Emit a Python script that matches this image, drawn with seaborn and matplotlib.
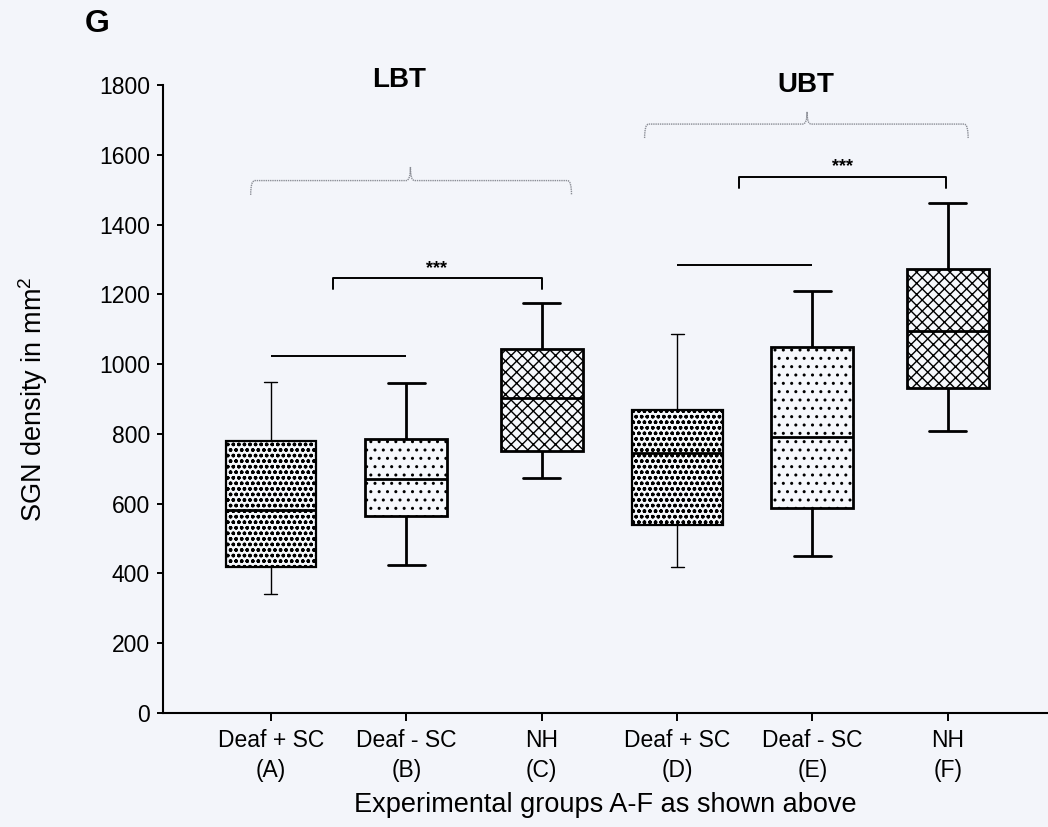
import numpy as np
import pandas as pd
import matplotlib
matplotlib.use("Agg")
import matplotlib.pyplot as plt
import seaborn as sns
from matplotlib.path import Path
from matplotlib.patches import PathPatch

# ---------------- data ----------------
groups = ["A", "B", "C", "D", "E", "F"]
group_labels = ["Deaf + SC\n(A)", "Deaf - SC\n(B)", "NH\n(C)",
                "Deaf + SC\n(D)", "Deaf - SC\n(E)", "NH\n(F)"]
whisker_low = [341, 425, 674, 418, 449, 808]
q1 = [418, 564, 750, 538, 586, 930]
median = [581, 671, 903, 746, 792, 1095]
q3 = [779, 784, 1044, 868, 1048, 1272]
whisker_high = [948, 945, 1176, 1086, 1209, 1461]
y_ticks = [0, 200, 400, 600, 800, 1000, 1200, 1400, 1600, 1800]

thin_groups = ["A", "D"]
thick_groups = ["B", "C", "E", "F"]
hatches = {"A": "ooo", "B": "..", "C": "xxx", "D": "ooo", "E": "..", "F": "xxx"}

# comparison lines / brackets (x in category units, y in data units)
plain_lines = [((0, 1), 1024), ((3, 4), 1284)]
sig_brackets = [((0.46, 2.0), 1247, 32), ((3.46, 4.99), 1536, 32)]
sig_text = [(1.226, 1275, "***"), (4.224, 1566, "***")]
braces = [((-0.15, 2.22), 1.03, 1526, 1565, 1485),
          ((2.76, 5.15), 3.96, 1688, 1723, 1648)]
brace_labels = [(0.945, 1814, "LBT"), (3.95, 1799, "UBT")]

# ---------------- style ----------------
sns.set_style("ticks")
bg = "#f3f5fa"
plt.rcParams["font.family"] = ["Liberation Sans", "DejaVu Sans"]
plt.rcParams["mathtext.fontset"] = "custom"
plt.rcParams["mathtext.rm"] = "Liberation Sans"
plt.rcParams["hatch.color"] = "black"
plt.rcParams["hatch.linewidth"] = 1.0
for k in ["text.color", "axes.labelcolor", "xtick.color", "ytick.color",
          "axes.edgecolor"]:
    plt.rcParams[k] = "black"

rows = []
for g, lo, a, m, b, hi in zip(groups, whisker_low, q1, median, q3, whisker_high):
    for v in (lo, a, m, b, hi):
        rows.append({"group": g, "value": v})
df = pd.DataFrame(rows)

fig = plt.figure(figsize=(10.48, 8.27), dpi=100, facecolor=bg)
ax = fig.add_axes([0.1555, 0.1381, 0.8445, 0.7591])
ax.set_facecolor(bg)

n0 = len(ax.patches)
sns.boxplot(data=df[df.group.isin(thin_groups)], x="group", y="value",
            order=groups, width=0.672, whis=(0, 100), color="#f6f8fc",
            saturation=1, linecolor="black", linewidth=1.0, ax=ax,
            capwidths=0.096, boxprops={"linewidth": 1.6},
            medianprops={"linewidth": 2.0})
sns.boxplot(data=df[df.group.isin(thick_groups)], x="group", y="value",
            order=groups, width=0.606, whis=(0, 100), color="#f6f8fc",
            saturation=1, linecolor="black", linewidth=2.0, ax=ax,
            capwidths=0.273, medianprops={"linewidth": 2.0})

for p in ax.patches[n0:]:
    ext = p.get_path().get_extents(p.get_transform())
    xc = ax.transData.inverted().transform(((ext.x0 + ext.x1) / 2, 0))[0]
    idx = int(round(xc))
    if 0 <= idx < len(groups):
        p.set_hatch(hatches[groups[idx]])

# axes
ax.set_xlim(-0.798, 5.74)
ax.set_ylim(0, 1800)
ax.set_yticks(y_ticks)
ax.set_xticks(range(len(groups)))
ax.set_xticklabels(group_labels, fontsize=16.5, linespacing=1.35)
ax.tick_params(axis="y", labelsize=16.5, length=4.5, width=1.4, direction="out", pad=5)
ax.tick_params(axis="x", length=6, width=1.4, direction="out", pad=6)
sns.despine(ax=ax)
ax.spines["left"].set_linewidth(1.5)
ax.spines["bottom"].set_linewidth(1.5)

ax.set_ylabel("SGN density in mm$^{2}$", fontsize=19.5)
ax.yaxis.set_label_coords(-0.128, 0.5)
ax.set_xlabel("Experimental groups A-F as shown above", fontsize=19.5)
ax.xaxis.set_label_coords(0.5, -0.147)
ax.xaxis.label.set_va("center")

# comparison lines
for (x0, x1), y in plain_lines:
    ax.plot([x0, x1], [y, y], color="black", lw=1.4, clip_on=False,
            solid_capstyle="butt")
for (x0, x1), y, d in sig_brackets:
    ax.plot([x0, x0, x1, x1], [y - d, y, y, y - d], color="black", lw=1.4,
            clip_on=False)
for x, y, s in sig_text:
    ax.text(x, y, s, ha="center", va="center", fontsize=13, fontweight="bold")

# curly braces
for (x0, x1), xm, yh, yp, ye in braces:
    dx = 0.03
    verts = [(x0, ye), (x0, yh), (x0 + dx, yh),
             (xm - dx, yh), (xm, yh), (xm, yp),
             (xm, yh), (xm + dx, yh),
             (x1 - dx, yh), (x1, yh), (x1, ye)]
    codes = [Path.MOVETO, Path.CURVE3, Path.CURVE3,
             Path.LINETO, Path.CURVE3, Path.CURVE3,
             Path.CURVE3, Path.CURVE3,
             Path.LINETO, Path.CURVE3, Path.CURVE3]
    ax.add_patch(PathPatch(Path(verts, codes), fill=False, edgecolor="#8a8d95",
                           lw=1.0, linestyle=(0, (1, 0.6)), clip_on=False))
for x, y, s in brace_labels:
    ax.text(x, y, s, ha="center", va="center", fontsize=20, fontweight="bold",
            clip_on=False)

fig.text(97 / 1048, 1 - 24 / 827, "G", ha="center", va="center",
         fontsize=23, fontweight="bold")

fig.savefig("out.png", dpi=100, facecolor=bg)
